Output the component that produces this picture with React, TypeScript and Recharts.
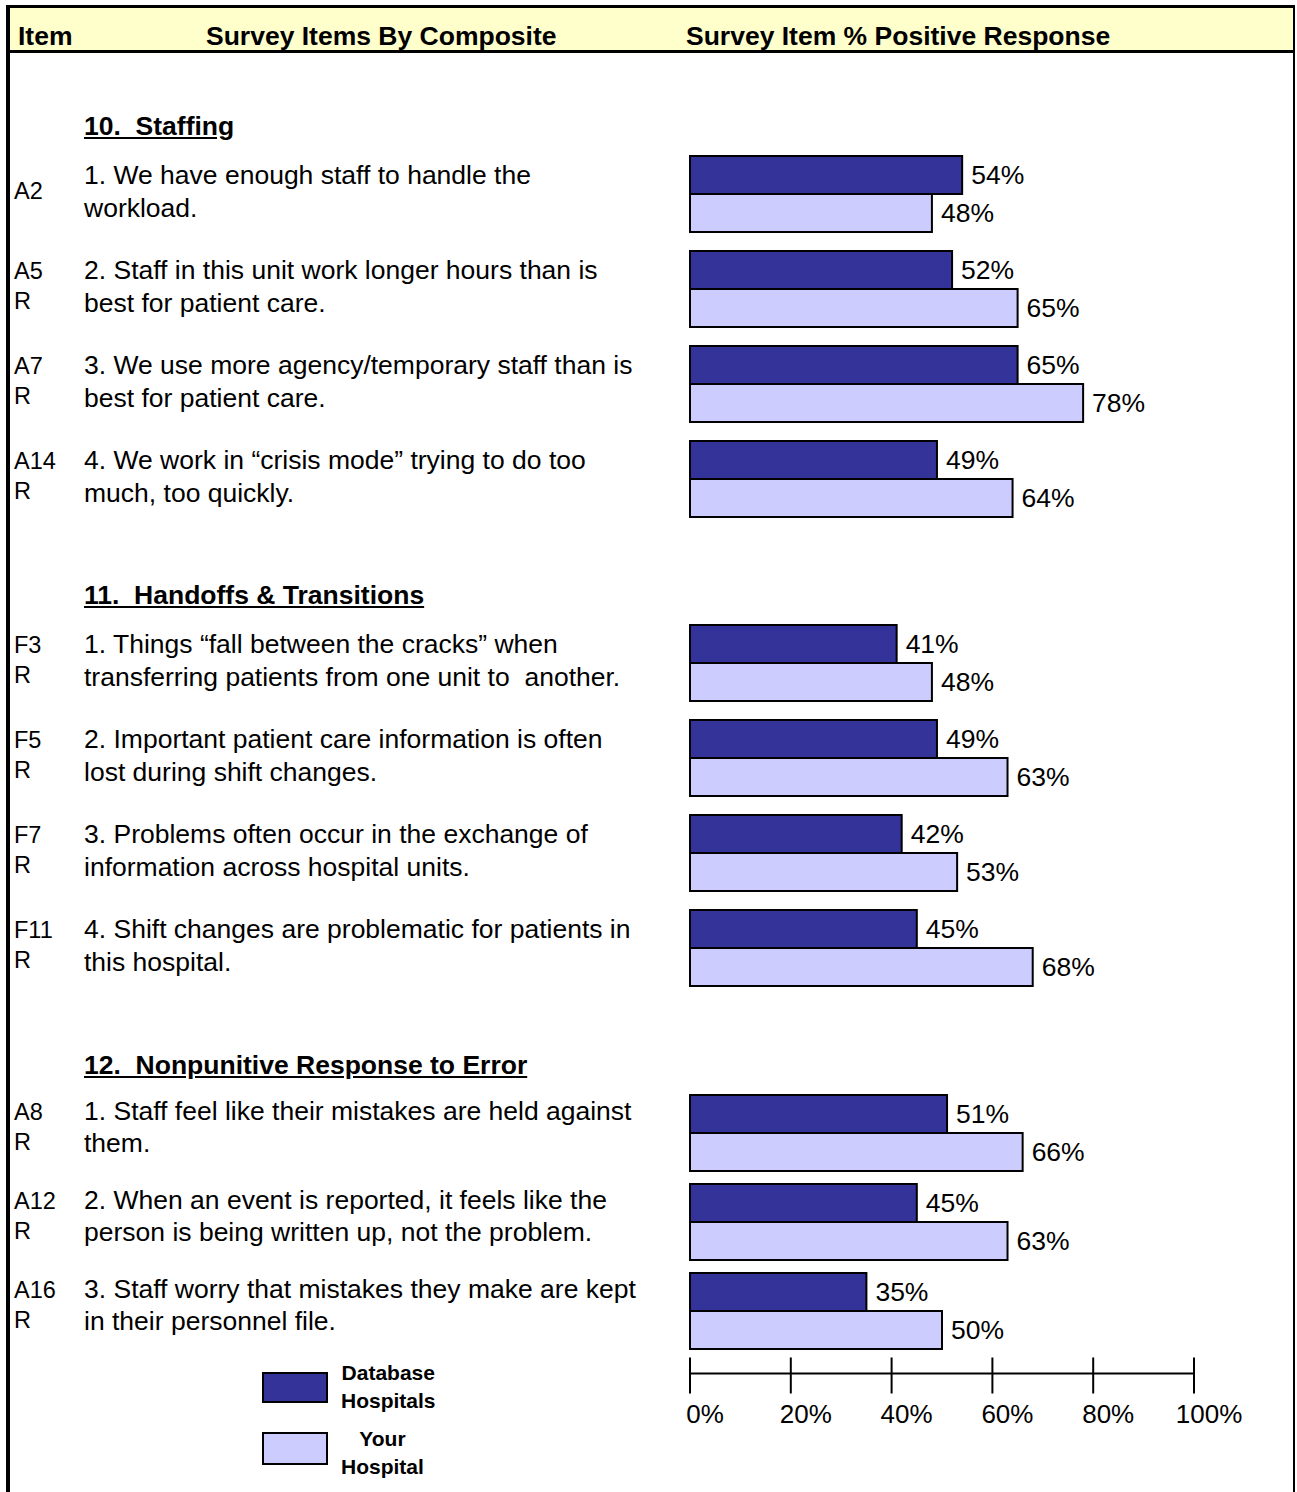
import React from "react";
import { BarChart, Bar, XAxis, YAxis, LabelList } from "recharts";

const FONT = '"Liberation Sans", Arial, Helvetica, sans-serif';
const DARK = "#333399";
const LIGHT = "#CCCCFF";

// series names
const seriesNames = ["Database Hospitals", "Your Hospital"];
const axisTicks = [0, 20, 40, 60, 80, 100];

// 10. Staffing
const staffingTitle = "10.  Staffing";
const staffingCodes = ["A2", "A5 R", "A7 R", "A14 R"];
const staffingItems = [
  ["1. We have enough staff to handle the", "workload."],
  ["2. Staff in this unit work longer hours than is", "best for patient care."],
  ["3. We use more agency/temporary staff than is", "best for patient care."],
  ["4. We work in \u201ccrisis mode\u201d trying to do too", "much, too quickly."],
];
const staffingDatabase = [54, 52, 65, 49];
const staffingYours = [48, 65, 78, 64];

// 11. Handoffs & Transitions
const handoffsTitle = "11.  Handoffs & Transitions";
const handoffsCodes = ["F3 R", "F5 R", "F7 R", "F11 R"];
const handoffsItems = [
  ["1. Things \u201cfall between the cracks\u201d when", "transferring patients from one unit to  another."],
  ["2. Important patient care information is often", "lost during shift changes."],
  ["3. Problems often occur in the exchange of", "information across hospital units."],
  ["4. Shift changes are problematic for patients in", "this hospital."],
];
const handoffsDatabase = [41, 49, 42, 45];
const handoffsYours = [48, 63, 53, 68];

// 12. Nonpunitive Response to Error
const nonpunitiveTitle = "12.  Nonpunitive Response to Error";
const nonpunitiveCodes = ["A8 R", "A12 R", "A16 R"];
const nonpunitiveItems = [
  ["1. Staff feel like their mistakes are held against", "them."],
  ["2. When an event is reported, it feels like the", "person is being written up, not the problem."],
  ["3. Staff worry that mistakes they make are kept", "in their personnel file."],
];
const nonpunitiveDatabase = [51, 45, 35];
const nonpunitiveYours = [66, 63, 50];

const PLOT_LEFT = 690;
const PLOT_W = 504;
const BAR = 38;

function makeLeftTick(codes: string[], items: string[][], l1: number, l2: number) {
  return (props: any) => {
    const { y, index } = props;
    const lines = items[index] || [];
    const codeLines = (codes[index] || "").split(" ");
    const y1 = y + l1;
    const y2 = y + l2;
    const mid = (y1 + y2) / 2;
    return (
      <g>
        {codeLines.map((c, i) => (
          <text
            key={"c" + i}
            x={14}
            y={codeLines.length === 1 ? mid : mid - 15 + i * 30}
            dominantBaseline="central"
            fontSize={23.5}
            fontFamily={FONT}
            fill="#000"
          >
            {c}
          </text>
        ))}
        {lines.map((t, i) => (
          <text
            key={"t" + i}
            x={84}
            y={i === 0 ? y1 : y2}
            dominantBaseline="central"
            fontSize={26.5}
            fontFamily={FONT}
            fill="#000"
            xmlSpace="preserve"
            style={{ whiteSpace: "pre" }}
          >
            {t}
          </text>
        ))}
      </g>
    );
  };
}

const AxisTick = (props: any) => {
  const { x, y, payload, index } = props;
  return (
    <g>
      {index === 0 && (
        <line x1={x} x2={x + PLOT_W} y1={y + 18.5} y2={y + 18.5} stroke="#000" strokeWidth={2} />
      )}
      <line x1={x} x2={x} y1={y + 2.5} y2={y + 38.5} stroke="#000" strokeWidth={2} />
      <text x={x + 15} y={y + 58.5} textAnchor="middle" dominantBaseline="central" fontSize={26} fontFamily={FONT} fill="#000">
        {payload.value}%
      </text>
    </g>
  );
};

type SectionProps = {
  title: string;
  codes: string[];
  items: string[][];
  database: number[];
  yours: number[];
  barTop: number;
  pitch: number;
  l1: number;
  l2: number;
  showAxis?: boolean;
};

function Section({ title, codes, items, database, yours, barTop, pitch, l1, l2, showAxis }: SectionProps) {
  const data = codes.map((code, i) => ({ code, database: database[i], yours: yours[i] }));
  const plotH = codes.length * pitch;
  const inset = Math.floor((pitch - 2 * BAR) / 2);
  const plotTop = barTop - inset;
  const axisH = showAxis ? 120 : 0;
  const fmt = (v: any) => `${v}%`;
  return (
    <>
      <div
        style={{
          position: "absolute",
          left: 84,
          top: barTop - 29 - 15,
          lineHeight: "30px",
          fontSize: 26.5,
          fontWeight: "bold",
          textDecoration: "underline",
          whiteSpace: "pre",
        }}
      >
        {title}
      </div>
      <div style={{ position: "absolute", left: 0, top: plotTop }}>
        <BarChart
          width={1297}
          height={plotH + axisH}
          data={data}
          layout="vertical"
          barGap={0}
          margin={{ top: 0, right: 1297 - PLOT_LEFT - PLOT_W, bottom: 0, left: 0 }}
        >
          <XAxis
            type="number"
            domain={[0, 100]}
            ticks={axisTicks}
            hide={!showAxis}
            height={axisH || 1}
            axisLine={false}
            tickLine={false}
            tickSize={0}
            tickMargin={0}
            tick={<AxisTick />}
            interval={0}
          />
          <YAxis
            type="category"
            dataKey="code"
            width={PLOT_LEFT}
            axisLine={false}
            tickLine={false}
            tick={makeLeftTick(codes, items, l1, l2)}
            interval={0}
          />
          <Bar dataKey="database" name={seriesNames[0]} fill={DARK} stroke="#000" strokeWidth={2} barSize={BAR} isAnimationActive={false}>
            <LabelList dataKey="database" position="right" offset={9} formatter={fmt} fill="#000" fontSize={26.5} fontFamily={FONT} />
          </Bar>
          <Bar dataKey="yours" name={seriesNames[1]} fill={LIGHT} stroke="#000" strokeWidth={2} barSize={BAR} isAnimationActive={false}>
            <LabelList dataKey="yours" position="right" offset={9} formatter={fmt} fill="#000" fontSize={26.5} fontFamily={FONT} />
          </Bar>
        </BarChart>
      </div>
    </>
  );
}

export default function App() {
  const headText = { position: "absolute" as const, top: 36 - 16, lineHeight: "32px", fontSize: 26.5, fontWeight: "bold" as const };
  const legendBox = (top: number, color: string) => (
    <div
      style={{
        position: "absolute",
        left: 262,
        top,
        width: 66,
        height: top > 1420 ? 33 : 31,
        boxSizing: "border-box",
        background: color,
        border: "2px solid #000",
      }}
    />
  );
  const legendText = { position: "absolute" as const, left: 341, lineHeight: "28px", fontSize: 21, fontWeight: "bold" as const, textAlign: "center" as const };
  return (
    <div
      style={{
        position: "absolute",
        left: 0,
        top: 0,
        width: 1297,
        height: 1492,
        background: "#fff",
        overflow: "hidden",
        fontFamily: FONT,
        color: "#000",
      }}
    >
      {/* frame */}
      <div
        style={{
          position: "absolute",
          left: 6,
          top: 5,
          width: 1289,
          height: 1520,
          boxSizing: "border-box",
          borderLeft: "4px solid #000",
          borderTop: "3px solid #000",
          borderRight: "2px solid #000",
        }}
      >
        <div style={{ height: 42, background: "#FFFFCC", borderBottom: "3px solid #000" }} />
      </div>
      <div style={{ ...headText, left: 18 }}>Item</div>
      <div style={{ ...headText, left: 206 }}>Survey Items By Composite</div>
      <div style={{ ...headText, left: 686 }}>Survey Item % Positive Response</div>

      <Section
        title={staffingTitle}
        codes={staffingCodes}
        items={staffingItems}
        database={staffingDatabase}
        yours={staffingYours}
        barTop={155}
        pitch={95}
        l1={-19}
        l2={14}
      />
      <Section
        title={handoffsTitle}
        codes={handoffsCodes}
        items={handoffsItems}
        database={handoffsDatabase}
        yours={handoffsYours}
        barTop={624}
        pitch={95}
        l1={-19}
        l2={14}
      />
      <Section
        title={nonpunitiveTitle}
        codes={nonpunitiveCodes}
        items={nonpunitiveItems}
        database={nonpunitiveDatabase}
        yours={nonpunitiveYours}
        barTop={1094}
        pitch={89}
        l1={-22}
        l2={10.5}
        showAxis
      />

      {legendBox(1372, DARK)}
      {legendBox(1432, LIGHT)}
      <div style={{ ...legendText, top: 1359 }}>
        Database
        <br />
        Hospitals
      </div>
      <div style={{ ...legendText, top: 1425 }}>
        Your
        <br />
        Hospital
      </div>
    </div>
  );
}
